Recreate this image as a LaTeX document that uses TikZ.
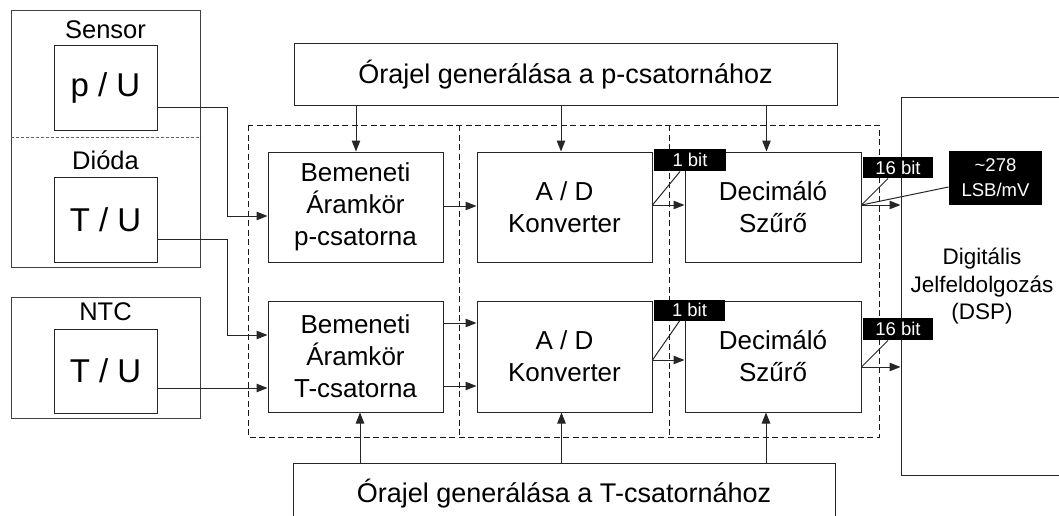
\documentclass[tikz,border=0pt]{standalone}
\usepackage{fontspec}
\setmainfont{Liberation Sans}
\usetikzlibrary{arrows.meta}
\begin{document}
\begin{tikzpicture}[x=1pt,y=-1pt,
  line width=1pt,
  blk/.style={draw=black!85, rectangle, inner sep=0pt, align=center,
    font=\fontsize{26}{32}\selectfont},
  outer/.style={draw=black!75, rectangle, inner sep=0pt},
  big/.style={blk, font=\fontsize{33}{38}\selectfont},
  housingtitle/.style={inner sep=0pt, font=\fontsize{25.5}{30}\selectfont},
  tag/.style={fill=black, text=white, inner sep=0pt, align=center,
    font=\fontsize{18.5}{25}\selectfont},
  arr/.style={draw=black!85, -{Triangle[length=11pt,width=8.5pt]}},
  wire/.style={draw=black!85},
  grp/.style={draw=black!90, dash pattern=on 6pt off 3.5pt}
]
\useasboundingbox (0,0) rectangle (1059,516);
\clip (0,0) rectangle (1059,516);

% sensor assembly: pressure sensor and diode share one housing
\node[outer, minimum width=189pt, minimum height=256pt] (hous) at (105.5,139) {};
\draw[draw=black!60, dash pattern=on 3pt off 2pt] (hous.west |- 0,137) -- (hous.east |- 0,137);
\node[housingtitle] (lsens) at (105.5,30) {Sensor};
\node[big, minimum width=103pt, minimum height=84pt] (pu) at (105.5,88) {p / U};
\node[housingtitle] (ldiod) at (105.5,160) {Dióda};
\node[big, minimum width=103pt, minimum height=85pt] (tu1) at (105.5,219.5) {T / U};

% separate NTC thermistor
\node[outer, minimum width=189pt, minimum height=121pt] (ntch) at (105.5,357.5) {};
\node[housingtitle] (lntc) at (105.5,312) {NTC};
\node[big, minimum width=103pt, minimum height=84pt] (tu2) at (105.5,371) {T / U};

% dashed processing stages
\draw[grp] (248,125) rectangle (879,437);
\draw[grp] (459,125) -- (459,437);
\draw[grp] (669,125) -- (669,437);

% signal chain blocks
\node[blk, minimum width=175pt, minimum height=110pt] (bp) at (355.5,207) {Bemeneti\\Áramkör\\p-csatorna};
\node[blk, minimum width=175pt, minimum height=110pt] (adp) at (564.5,207) {A / D\\Konverter};
\node[blk, minimum width=176pt, minimum height=110pt] (dp) at (773,207) {Decimáló\\Szűrő};
\node[blk, minimum width=175pt, minimum height=111pt] (bt) at (355.5,356.5) {Bemeneti\\Áramkör\\T-csatorna};
\node[blk, minimum width=175pt, minimum height=111pt] (adt) at (564.5,356.5) {A / D\\Konverter};
\node[blk, minimum width=176pt, minimum height=111pt] (dt) at (773,356.5) {Decimáló\\Szűrő};

% clock generators
\node[blk, font=\fontsize{27}{32}\selectfont, minimum width=543pt, minimum height=62pt] (clkp) at (565.5,75) {Órajel generálása a p-csatornához};
\node[blk, font=\fontsize{27}{32}\selectfont, minimum width=542pt, minimum height=62pt] (clkt) at (564,494) {Órajel generálása a T-csatornához};

% signal processor
\node[blk, font=\fontsize{22.5}{27.5}\selectfont, minimum width=162pt, minimum height=377pt] (dsp) at (982,286.5) {Digitális\\Jelfeldolgozás\\(DSP)};

% sensor outputs
\draw[arr] ([yshift=-20pt]pu.east) -- ++(70,0) |- ([yshift=-9pt]bp.west);
\draw[arr] ([yshift=-19.5pt]tu1.east) -- ++(70,0) |- ([yshift=21.5pt]bt.west);
\draw[arr] ([yshift=-17pt]tu2.east) -- ([yshift=-17pt]tu2.east -| bt.west);

% clock distribution
\draw[arr] ([xshift=0.5pt]bp.north |- clkp.south) -- ([xshift=0.5pt]bp.north);
\draw[arr] ([xshift=-3.5pt]adp.north |- clkp.south) -- ([xshift=-3.5pt]adp.north);
\draw[arr] ([xshift=-6.5pt]dp.north |- clkp.south) -- ([xshift=-6.5pt]dp.north);
\draw[arr] ([xshift=4.5pt]bt.south |- clkt.north) -- ([xshift=4.5pt]bt.south);
\draw[arr] ([xshift=-3pt]adt.south |- clkt.north) -- ([xshift=-3pt]adt.south);
\draw[arr] ([xshift=-7pt]dt.south |- clkt.north) -- ([xshift=-7pt]dt.south);

% stage-to-stage signals
\draw[arr] ([yshift=1pt]bp.east) -- ([yshift=1pt]adp.west);
\draw[arr] ([yshift=33.5pt]bt.east) -- ([yshift=33.5pt]adt.west);
\draw[arr] ([yshift=-29.5pt]bt.east) -- ([yshift=-29.5pt]adt.west);
\draw[arr] ([yshift=2pt]adp.east) -- ([yshift=2pt]dp.west);
\draw[arr] ([yshift=-3.5pt]adt.east) -- ([yshift=-3.5pt]dt.west);
\draw[arr] ([yshift=2pt]dp.east) -- ([yshift=2pt]dp.east -| dsp.west);
\draw[arr] ([yshift=-10.5pt]dt.east) -- ([yshift=-10.5pt]dt.east -| dsp.west);

% bus width tags
\node[tag, minimum width=72pt, minimum height=22pt] (w1p) at (690,160) {1 bit};
\node[tag, minimum width=71pt, minimum height=21pt] (w1t) at (689.5,310) {1 bit};
\node[tag, minimum width=70pt, minimum height=21pt] (w16p) at (898,167.5) {16 bit};
\node[tag, minimum width=70pt, minimum height=22pt] (w16t) at (898,329) {16 bit};
\node[tag, minimum width=93pt, minimum height=54pt] (gain) at (995.5,178) {\textasciitilde 278\\LSB/mV};

\draw[wire] ([yshift=2pt]adp.east) -- ([xshift=-10pt]w1p.south);
\draw[wire] ([yshift=-3.5pt]adt.east) -- ([xshift=-10pt]w1t.south);
\draw[wire] ([yshift=2pt]dp.east) -- ([xshift=-10pt]w16p.south);
\draw[wire] ([yshift=-10.5pt]dt.east) -- ([xshift=-10pt]w16t.south);
\draw[wire] ([yshift=2pt]dp.east) -- ([yshift=-9pt]gain.west);
\end{tikzpicture}
\end{document}
